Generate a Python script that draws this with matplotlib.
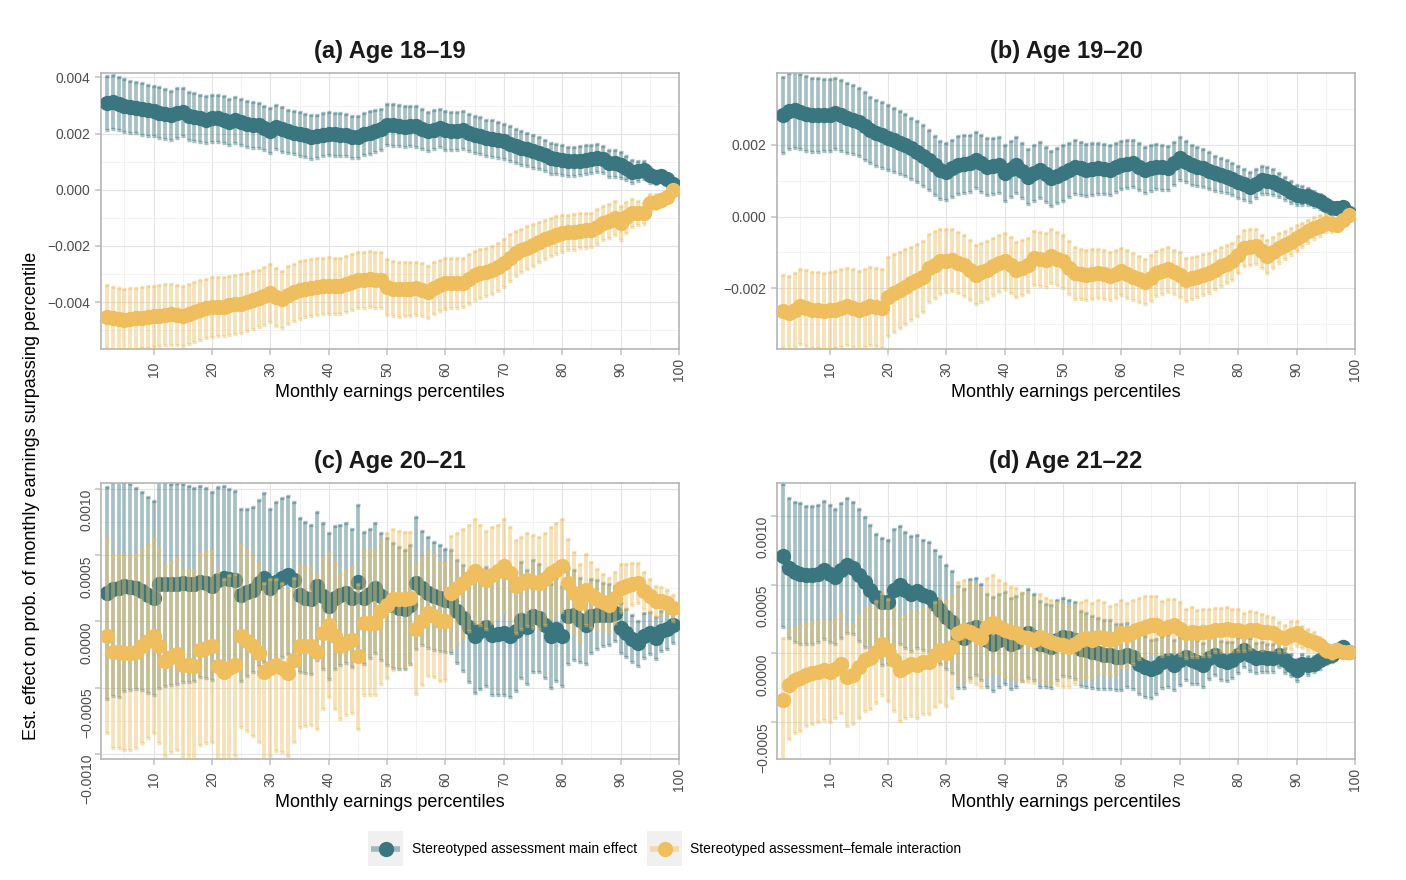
import numpy as np
import matplotlib
matplotlib.use('Agg')
import matplotlib.pyplot as plt
from matplotlib.patches import Rectangle
from matplotlib.ticker import FixedLocator, FuncFormatter

plt.rcParams['font.family'] = ['Liberation Sans', 'DejaVu Sans']

# percentiles shown on the x axis
percentiles = np.arange(2, 100)

# all estimates and CI half-widths in units of 1e-4
# (a) Age 18-19
a_main = [31.0, 31.3, 30.7, 29.9, 29.6, 29.3, 28.8, 28.3, 28.0,
          27.5, 27.0, 26.5, 27.4, 27.7, 26.3, 26.0, 25.4, 25.0, 25.4,
          25.4, 25.0, 24.2, 24.8, 24.2, 23.5, 23.0, 23.0, 22.0, 21.1,
          22.4, 21.5, 20.8, 20.4, 20.0, 19.4, 18.8, 19.0, 19.6, 20.0,
          19.8, 19.6, 19.5, 18.8, 18.9, 19.9, 20.4, 20.8, 21.5, 23.2,
          23.0, 22.9, 22.4, 22.7, 22.6, 21.8, 20.8, 21.4, 22.0, 21.2,
          20.8, 21.0, 21.4, 20.4, 19.6, 19.2, 18.5, 18.2, 17.8, 17.3,
          16.4, 15.7, 15.0, 14.4, 13.7, 13.0, 12.3, 11.3, 11.0, 10.7,
          10.2, 10.1, 10.4, 10.7, 11.0, 11.3, 10.8, 9.5, 9.4, 8.9,
          7.8, 6.5, 6.8, 7.1, 5.4, 4.5, 4.8, 3.8, 2.1]
a_main_hw = [9.6, 9.5, 9.4, 9.4, 9.3, 9.2, 9.2, 9.1, 9.0,
             9.0, 8.9, 8.8, 8.8, 8.7, 8.7, 8.6, 8.5, 8.5, 8.4,
             8.4, 8.3, 8.3, 8.2, 8.2, 8.1, 8.1, 8.0, 8.0, 7.9,
             7.9, 7.9, 7.8, 7.8, 7.8, 7.7, 7.7, 7.7, 7.6, 7.6,
             7.6, 7.6, 7.5, 7.5, 7.5, 7.5, 7.5, 7.5, 7.4, 7.4,
             7.4, 7.3, 7.3, 7.2, 7.2, 7.1, 7.0, 7.0, 6.9, 6.9,
             6.8, 6.8, 6.7, 6.7, 6.6, 6.6, 6.5, 6.5, 6.4, 6.3,
             6.2, 6.1, 6.0, 5.9, 5.8, 5.7, 5.6, 5.5, 5.4, 5.3,
             5.2, 5.2, 5.1, 5.1, 5.0, 5.0, 4.9, 4.8, 4.8, 4.7,
             4.4, 4.0, 3.6, 3.2, 2.8, 2.3, 1.8, 1.4, 1.0]
a_inter = [-45.2, -45.8, -46.0, -46.2, -46.0, -45.8, -45.5, -45.3, -45.0,
           -44.8, -44.5, -44.3, -44.5, -45.0, -44.2, -43.5, -42.8, -42.2, -41.7,
           -41.6, -41.7, -41.2, -40.8, -40.5, -40.0, -39.3, -38.7, -37.8, -36.9,
           -38.2, -39.0, -37.5, -36.5, -35.7, -35.2, -34.8, -34.5, -34.3, -34.2,
           -34.3, -34.3, -33.5, -32.8, -32.1, -32.0, -31.9, -32.0, -32.1, -34.5,
           -35.2, -35.5, -35.3, -35.2, -35.1, -35.6, -36.3, -35.0, -34.0, -33.3,
           -33.2, -33.1, -33.1, -31.8, -30.4, -29.8, -29.2, -28.6, -27.5, -26.2,
           -24.2, -22.6, -21.6, -20.6, -19.6, -18.6, -17.6, -16.7, -16.1, -15.5,
           -15.2, -14.9, -14.6, -14.4, -14.3, -13.2, -11.9, -11.0, -10.1, -11.9,
           -9.8, -8.3, -8.3, -8.3, -4.8, -4.2, -3.6, -2.4, 0.0]
a_inter_hw = [11.2, 11.1, 11.1, 11.0, 11.0, 11.0, 10.9, 10.9, 10.9,
              10.8, 10.8, 10.8, 10.7, 10.7, 10.7, 10.7, 10.6, 10.6, 10.6,
              10.6, 10.5, 10.5, 10.5, 10.4, 10.4, 10.4, 10.3, 10.3, 10.3,
              10.3, 10.2, 10.2, 10.2, 10.2, 10.1, 10.1, 10.1, 10.1, 10.1,
              10.0, 10.0, 10.0, 10.0, 10.0, 10.0, 10.0, 10.0, 10.0, 10.0,
              9.9, 9.8, 9.7, 9.6, 9.5, 9.4, 9.3, 9.2, 9.1, 9.0,
              8.9, 8.9, 8.8, 8.8, 8.7, 8.7, 8.6, 8.6, 8.5, 8.5,
              8.3, 8.1, 7.8, 7.6, 7.4, 7.2, 7.0, 6.8, 6.6, 6.5,
              6.4, 6.4, 6.3, 6.3, 6.2, 6.2, 6.1, 6.1, 6.0, 6.0,
              5.6, 5.0, 4.4, 3.8, 3.2, 2.6, 2.0, 1.5, 1.0]

# (b) Age 19-20
b_main = [28.3, 29.3, 29.7, 29.2, 28.7, 28.3, 28.3, 28.3, 28.4,
          28.8, 28.2, 27.4, 27.0, 26.4, 25.2, 24.1, 23.3, 22.7, 22.0,
          21.3, 20.6, 19.9, 19.0, 18.1, 17.0, 15.8, 14.3, 13.0, 12.5,
          13.4, 14.4, 14.6, 14.8, 15.8, 14.8, 13.9, 14.2, 14.4, 12.1,
          13.3, 14.4, 12.8, 11.1, 12.1, 13.0, 11.8, 10.7, 11.4, 12.1,
          13.0, 13.9, 13.4, 13.0, 13.2, 13.5, 13.2, 13.0, 13.7, 14.4,
          14.6, 14.8, 13.9, 13.0, 13.5, 13.9, 13.7, 13.5, 14.8, 16.2,
          15.3, 14.4, 13.9, 13.5, 12.8, 12.1, 11.6, 11.1, 10.4, 9.7,
          9.0, 8.3, 9.2, 10.2, 10.0, 9.7, 8.8, 7.9, 6.9, 6.0,
          5.8, 5.6, 4.9, 4.2, 3.2, 2.3, 2.5, 2.8, 0.9]
b_main_hw = [10.7, 10.6, 10.6, 10.5, 10.4, 10.3, 10.2, 10.1, 10.0,
             9.9, 9.8, 9.7, 9.6, 9.5, 9.4, 9.3, 9.2, 9.1, 9.0,
             8.9, 8.8, 8.7, 8.6, 8.5, 8.4, 8.3, 8.2, 8.1, 8.0,
             8.0, 8.0, 8.0, 7.9, 7.9, 7.9, 7.9, 7.8, 7.8, 7.8,
             7.8, 7.8, 7.7, 7.7, 7.7, 7.7, 7.7, 7.7, 7.7, 7.7,
             7.6, 7.5, 7.4, 7.3, 7.2, 7.1, 7.0, 6.9, 6.8, 6.7,
             6.6, 6.5, 6.5, 6.4, 6.3, 6.3, 6.2, 6.1, 6.1, 6.0,
             5.8, 5.6, 5.4, 5.3, 5.1, 4.9, 4.7, 4.6, 4.5, 4.4,
             4.3, 4.2, 4.1, 4.0, 3.8, 3.6, 3.4, 3.2, 3.0, 2.8,
             2.6, 2.4, 2.2, 2.1, 2.0, 1.7, 1.4, 1.0, 0.6]
b_inter = [-26.4, -26.9, -26.0, -25.0, -25.5, -26.0, -26.1, -26.2, -26.1,
           -26.0, -25.5, -25.0, -25.5, -26.0, -25.5, -25.0, -25.2, -25.5, -22.3,
           -21.3, -20.4, -19.5, -18.6, -17.6, -16.7, -14.4, -13.4, -12.5, -12.3,
           -12.1, -12.8, -13.5, -14.8, -16.2, -15.5, -14.8, -13.9, -13.0, -12.5,
           -13.6, -14.8, -14.2, -13.5, -11.6, -11.9, -12.1, -11.1, -11.8, -12.5,
           -14.2, -15.8, -16.0, -16.2, -16.0, -15.8, -16.1, -16.5, -15.9, -15.3,
           -16.0, -16.7, -17.4, -18.1, -17.0, -15.8, -15.2, -14.7, -15.4, -16.2,
           -17.6, -17.2, -16.7, -16.2, -15.8, -14.8, -13.9, -13.2, -12.5, -10.6,
           -8.8, -8.5, -8.3, -9.7, -11.1, -10.0, -8.8, -7.9, -7.0, -6.0,
           -5.1, -4.1, -3.2, -2.5, -1.9, -2.1, -2.3, -1.0, 0.5]
b_inter_hw = [10.2, 10.3, 10.4, 10.4, 10.5, 10.5, 10.6, 10.6, 10.7,
              10.7, 10.8, 10.8, 10.8, 10.9, 10.9, 10.9, 11.0, 11.0, 11.0,
              10.8, 10.6, 10.4, 10.2, 10.0, 9.8, 9.5, 9.3, 9.0, 8.8,
              8.7, 8.6, 8.5, 8.4, 8.3, 8.2, 8.1, 8.0, 7.9, 7.8,
              7.8, 7.7, 7.7, 7.6, 7.6, 7.5, 7.5, 7.5, 7.4, 7.4,
              7.3, 7.2, 7.1, 7.0, 6.9, 6.9, 6.8, 6.7, 6.7, 6.6,
              6.6, 6.5, 6.5, 6.4, 6.4, 6.3, 6.3, 6.3, 6.2, 6.2,
              6.0, 5.9, 5.8, 5.7, 5.6, 5.5, 5.4, 5.3, 5.2, 5.1,
              5.0, 4.9, 4.8, 4.7, 4.6, 4.4, 4.2, 4.0, 3.8, 3.6,
              3.4, 3.2, 3.0, 2.8, 2.5, 2.2, 1.8, 1.3, 0.8]

# (c) Age 20-21
c_main = [2.15, 2.45, 2.5, 2.65, 2.6, 2.5, 2.3, 2.0, 1.77,
          2.8, 2.8, 2.8, 2.85, 2.9, 2.85, 2.8, 3.0, 2.9, 2.65,
          3.15, 3.3, 3.2, 3.15, 2.0, 2.2, 2.4, 2.9, 3.3, 2.5,
          3.0, 3.3, 3.5, 3.15, 2.0, 1.8, 1.65, 2.65, 1.9, 1.15,
          1.77, 2.0, 2.15, 1.77, 3.0, 1.77, 2.1, 2.5, 1.9, 1.5,
          1.2, 1.0, 0.9, 1.25, 2.9, 2.5, 2.15, 1.9, 1.77, 1.6,
          1.5, 0.75, 0.25, -0.4, -1.1, -0.7, -0.4, -1.0, -0.95, -0.9,
          -1.1, -0.75, 0.1, -0.4, 0.4, 0.25, -0.25, -1.1, -0.6, -1.1,
          0.4, 0.5, 0.1, -0.25, 0.4, 0.5, 0.5, 0.5, 0.6, -0.5,
          -0.9, -1.3, -1.65, -1.1, -0.9, -1.25, -0.75, -0.6, -0.25]
c_main_hw = [8.0, 8.1, 8.2, 7.9, 7.8, 7.6, 7.5, 7.4, 7.3,
             7.8, 7.7, 7.6, 7.6, 7.5, 7.4, 7.3, 7.2, 7.2, 7.1,
             7.0, 6.9, 6.8, 6.7, 6.5, 6.3, 6.2, 6.3, 6.4, 6.0,
             6.0, 6.0, 6.0, 5.9, 5.8, 5.7, 5.6, 5.6, 5.5, 5.5,
             5.4, 5.3, 5.3, 5.2, 5.8, 5.0, 4.9, 4.9, 4.8, 4.8,
             4.7, 4.6, 4.5, 4.5, 5.0, 4.3, 4.2, 4.1, 4.0, 3.9,
             3.9, 3.9, 4.0, 4.2, 4.3, 4.4, 4.5, 4.6, 4.6, 4.7,
             4.6, 4.5, 4.4, 4.3, 4.2, 4.1, 4.0, 3.9, 3.9, 3.8,
             3.6, 3.4, 3.2, 3.0, 2.8, 2.6, 2.4, 2.3, 2.1, 1.9,
             1.8, 1.8, 1.7, 1.7, 1.6, 1.6, 1.5, 1.5, 1.4]
c_inter = [-1.1, -2.3, -2.3, -2.4, -2.4, -2.3, -1.9, -1.5, -1.1,
           -1.9, -3.0, -2.7, -2.5, -3.3, -3.3, -3.4, -2.15, -2.0, -1.9,
           -3.4, -3.8, -3.5, -3.3, -1.1, -1.5, -1.9, -2.4, -3.8, -3.5,
           -3.3, -3.5, -3.9, -2.9, -1.9, -1.9, -1.9, -2.3, -0.9, -0.25,
           -1.1, -1.9, -1.6, -1.4, -2.65, -0.1, -0.1, -0.1, 0.75, 1.2,
           1.65, 1.65, 1.65, 1.77, -0.6, 0.0, 0.6, 0.4, 0.0, 0.0,
           2.15, 2.5, 2.9, 3.3, 3.8, 3.5, 3.15, 3.5, 3.8, 4.2,
           3.65, 2.65, 2.9, 3.15, 3.0, 2.9, 3.2, 3.65, 3.9, 4.2,
           2.9, 2.15, 1.4, 2.4, 2.0, 1.65, 1.45, 1.25, 1.8, 2.5,
           2.65, 2.8, 2.9, 2.3, 1.9, 1.5, 1.5, 1.4, 1.0]
c_inter_hw = [7.3, 7.3, 7.3, 7.3, 7.3, 7.3, 7.3, 7.3, 7.3,
              7.3, 7.2, 7.2, 7.2, 7.2, 7.2, 7.2, 7.2, 7.2, 7.2,
              7.1, 7.0, 7.0, 6.9, 6.9, 6.8, 6.8, 6.7, 6.7, 6.7,
              6.5, 6.4, 6.3, 6.2, 6.1, 6.0, 5.9, 5.8, 5.7, 5.5,
              5.5, 5.5, 5.5, 5.5, 5.5, 5.5, 5.5, 5.5, 5.5, 5.5,
              5.3, 5.2, 5.1, 5.0, 4.9, 4.8, 4.7, 4.6, 4.5, 4.4,
              4.3, 4.2, 4.1, 4.0, 3.9, 3.8, 3.7, 3.6, 3.5, 3.5,
              3.5, 3.5, 3.5, 3.5, 3.5, 3.5, 3.5, 3.5, 3.5, 3.5,
              3.3, 3.1, 2.9, 2.7, 2.5, 2.3, 2.1, 2.0, 1.9, 1.8,
              1.7, 1.6, 1.5, 1.4, 1.3, 1.2, 1.1, 1.0, 1.0]

# (d) Age 21-22
d_main = [7.1, 6.2, 5.9, 5.8, 5.7, 5.7, 5.8, 6.05, 5.8,
          5.55, 6.05, 6.4, 6.2, 5.7, 5.2, 4.6, 4.1, 3.75, 3.75,
          4.6, 4.95, 4.6, 4.35, 4.5, 4.25, 4.1, 3.6, 3.15, 2.65,
          2.3, 1.2, 1.1, 1.8, 1.95, 1.55, 0.95, 0.7, 0.95, 1.1,
          0.7, 0.85, 1.2, 1.45, 1.2, 0.7, 0.6, 0.5, 0.95, 1.2,
          1.1, 0.95, 0.35, 0.25, 0.1, 0.0, -0.1, -0.1, -0.25, -0.25,
          -0.1, -0.25, -0.75, -0.95, -1.1, -0.95, -0.6, -0.5, -0.85, -0.5,
          -0.25, -0.5, -0.6, -0.85, -0.35, -0.1, -0.5, -0.6, -0.5, -0.1,
          0.25, -0.1, -0.35, -0.25, -0.35, -0.35, -0.1, -0.5, -0.85, -1.2,
          -0.75, -0.85, -0.75, -0.5, -0.25, -0.1, 0.25, 0.5, 0.1]
d_main_hw = [5.2, 5.1, 5.1, 5.1, 5.0, 5.0, 5.0, 5.0, 5.0,
             4.9, 4.9, 4.9, 4.8, 4.8, 4.7, 4.7, 4.6, 4.6, 4.5,
             4.4, 4.3, 4.2, 4.2, 4.1, 4.0, 4.0, 3.9, 3.9, 3.8,
             3.7, 3.7, 3.6, 3.6, 3.5, 3.5, 3.4, 3.4, 3.4, 3.35,
             3.3, 3.3, 3.2, 3.2, 3.1, 3.1, 3.0, 3.0, 2.9, 2.85,
             2.8, 2.8, 2.7, 2.7, 2.6, 2.6, 2.5, 2.5, 2.4, 2.4,
             2.3, 2.3, 2.2, 2.2, 2.1, 2.0, 1.9, 1.9, 1.8, 1.8,
             1.7, 1.7, 1.6, 1.6, 1.5, 1.5, 1.4, 1.4, 1.3, 1.3,
             1.2, 1.2, 1.1, 1.1, 1.0, 1.0, 0.9, 0.9, 0.8, 0.8,
             0.7, 0.7, 0.6, 0.6, 0.5, 0.5, 0.4, 0.4, 0.3]
d_inter = [-3.4, -2.3, -1.95, -1.8, -1.55, -1.45, -1.35, -1.2, -1.35,
           -1.1, -0.75, -1.7, -1.55, -0.95, -0.5, -0.35, 0.1, 0.7, 0.25,
           -0.5, -1.2, -0.95, -0.75, -0.85, -0.6, -0.6, -0.1, 0.25, 0.0,
           0.5, 1.45, 1.7, 1.55, 1.35, 1.1, 1.95, 2.2, 1.95, 1.7,
           1.55, 1.45, 1.2, 1.1, 0.95, 1.2, 0.95, 0.85, 0.7, 0.6,
           0.5, 0.7, 0.95, 1.1, 0.95, 1.2, 1.1, 0.95, 1.1, 1.45,
           1.35, 1.55, 1.8, 1.95, 2.05, 2.05, 1.8, 1.95, 2.05, 1.8,
           1.45, 1.55, 1.45, 1.55, 1.55, 1.7, 1.7, 1.8, 1.7, 1.7,
           1.55, 1.7, 1.7, 1.55, 1.55, 1.45, 1.2, 1.1, 1.35, 1.45,
           1.2, 0.95, 0.85, 0.6, 0.25, 0.1, 0.25, 0.1, 0.1]
d_inter_hw = [4.5, 3.9, 3.8, 3.8, 3.7, 3.7, 3.6, 3.6, 3.6,
              3.6, 3.6, 3.6, 3.6, 3.7, 3.7, 3.7, 3.7, 3.7, 3.7,
              3.7, 3.7, 3.7, 3.8, 3.8, 3.8, 3.8, 3.8, 3.8, 3.8,
              3.7, 3.7, 3.6, 3.6, 3.6, 3.5, 3.5, 3.5, 3.4, 3.4,
              3.3, 3.3, 3.2, 3.2, 3.1, 3.1, 3.1, 3.0, 3.0, 3.0,
              2.9, 2.9, 2.8, 2.8, 2.7, 2.7, 2.6, 2.5, 2.5, 2.4,
              2.3, 2.3, 2.2, 2.2, 2.1, 2.1, 2.0, 2.0, 1.9, 1.9,
              1.8, 1.8, 1.7, 1.7, 1.7, 1.6, 1.6, 1.6, 1.5, 1.5,
              1.4, 1.4, 1.3, 1.3, 1.2, 1.2, 1.1, 1.0, 1.0, 0.9,
              0.8, 0.8, 0.7, 0.6, 0.5, 0.5, 0.4, 0.3, 0.3]

titles = ['(a) Age 18\u201319', '(b) Age 19\u201320', '(c) Age 20\u201321', '(d) Age 21\u201322']
series_labels = ['Stereotyped assessment main effect',
                 'Stereotyped assessment\u2013female interaction']

teal = '#3A7680'
gold = '#EFBE5E'
scale = 1e-4


def minus_fmt(nd):
    def f(v, pos):
        if abs(v) < 1e-12:
            v = 0.0
        return f'{v:.{nd}f}'.replace('-', '\u2212')
    return FuncFormatter(f)


def draw_panel(ax, main, main_hw, inter, inter_hw, title, ylim, yticks, yminor, nd, rot_y):
    z = 2
    for est, hw, col in ((main, main_hw, teal), (inter, inter_hw, gold)):
        est = np.array(est) * scale
        hw = np.array(hw) * scale
        ax.errorbar(percentiles, est, yerr=hw, fmt='none', ecolor=col, alpha=0.45,
                    elinewidth=2.7, capsize=1.35, capthick=2.4, zorder=z)
        ax.plot(percentiles, est, 'o', ms=11, color=col, mec='none', zorder=z + 1)
        z += 2

    ax.set_xlim(1, 100)
    ax.set_ylim(*ylim)
    ax.xaxis.set_major_locator(FixedLocator(range(10, 101, 10)))
    ax.xaxis.set_minor_locator(FixedLocator(range(5, 100, 10)))
    ax.yaxis.set_major_locator(FixedLocator(yticks))
    ax.yaxis.set_minor_locator(FixedLocator(yminor))
    ax.yaxis.set_major_formatter(minus_fmt(nd))

    ax.set_axisbelow(True)
    ax.grid(which='major', color='#E4E4E4', lw=0.8)
    ax.grid(which='minor', color='#F1F1F1', lw=0.6)
    for sp in ax.spines.values():
        sp.set_color('#B5B5B5')
        sp.set_linewidth(1.2)
    ax.tick_params(which='major', length=4.3, width=1.4, color='#CFCFCF',
                   labelsize=10, labelcolor='#4D4D4D')
    ax.tick_params(which='minor', length=0)
    ax.tick_params(axis='x', pad=10.5)
    plt.setp(ax.get_xticklabels(), rotation=90, rotation_mode='anchor', ha='center', va='center')
    if rot_y:
        ax.tick_params(axis='y', pad=3.0)
        plt.setp(ax.get_yticklabels(), rotation=90, rotation_mode='anchor', ha='right', va='baseline')
    else:
        ax.tick_params(axis='y', pad=3.6)

    ax.set_title(title, fontsize=17, fontweight='bold', color='#1A1A1A', pad=10.5)
    ax.set_xlabel('Monthly earnings percentiles', fontsize=13, color='black')
    ax.xaxis.set_label_coords(0.5, -0.127)


fig = plt.figure(figsize=(14.06, 8.8), dpi=100)
W, H = 1406, 880
boxes = [(101, 73), (777, 73), (101, 483), (777, 483)]
axes = [fig.add_axes([l / W, 1 - (t + 276) / H, 578 / W, 276 / H]) for l, t in boxes]

draw_panel(axes[0], a_main, a_main_hw, a_inter, a_inter_hw, titles[0],
           (-0.00567, 0.00416), [-0.004, -0.002, 0, 0.002, 0.004],
           [-0.005, -0.003, -0.001, 0.001, 0.003], 3, False)
draw_panel(axes[1], b_main, b_main_hw, b_inter, b_inter_hw, titles[1],
           (-0.00369, 0.0040), [-0.002, 0, 0.002],
           [-0.003, -0.001, 0.001, 0.003], 3, False)
draw_panel(axes[2], c_main, c_main_hw, c_inter, c_inter_hw, titles[2],
           (-0.00104, 0.001045), [-0.001, -0.0005, 0, 0.0005, 0.001],
           [-0.00075, -0.00025, 0.00025, 0.00075], 4, True)
draw_panel(axes[3], d_main, d_main_hw, d_inter, d_inter_hw, titles[3],
           (-0.000766, 0.001237), [-0.0005, 0, 0.0005, 0.001],
           [-0.00025, 0.00025, 0.00075], 4, True)

fig.text(32 / W, 1 - 496 / H, 'Est. effect on prob. of monthly earnings surpassing percentile',
         rotation=90, ha='center', va='center', fontsize=13, color='black')

# legend drawn in pixel coordinates along the bottom
leg = fig.add_axes([0, 0, 1, 88 / H])
leg.set_xlim(0, W)
leg.set_ylim(H, H - 88)
leg.axis('off')
for (kx, tx), col, lab in zip([(368, 412), (647, 690)], [teal, gold], series_labels):
    leg.add_patch(Rectangle((kx, 831), 35, 35, facecolor='#F0F0F0', edgecolor='none'))
    leg.plot([kx + 3, kx + 32], [848.5, 848.5], color=col, alpha=0.45, lw=4, solid_capstyle='butt')
    leg.plot([kx + 17.5], [848.5], 'o', ms=11, color=col, mec='none')
    leg.text(tx, 848.5, lab, fontsize=10, va='center', ha='left', color='black')

fig.savefig('out.png', dpi=100)
